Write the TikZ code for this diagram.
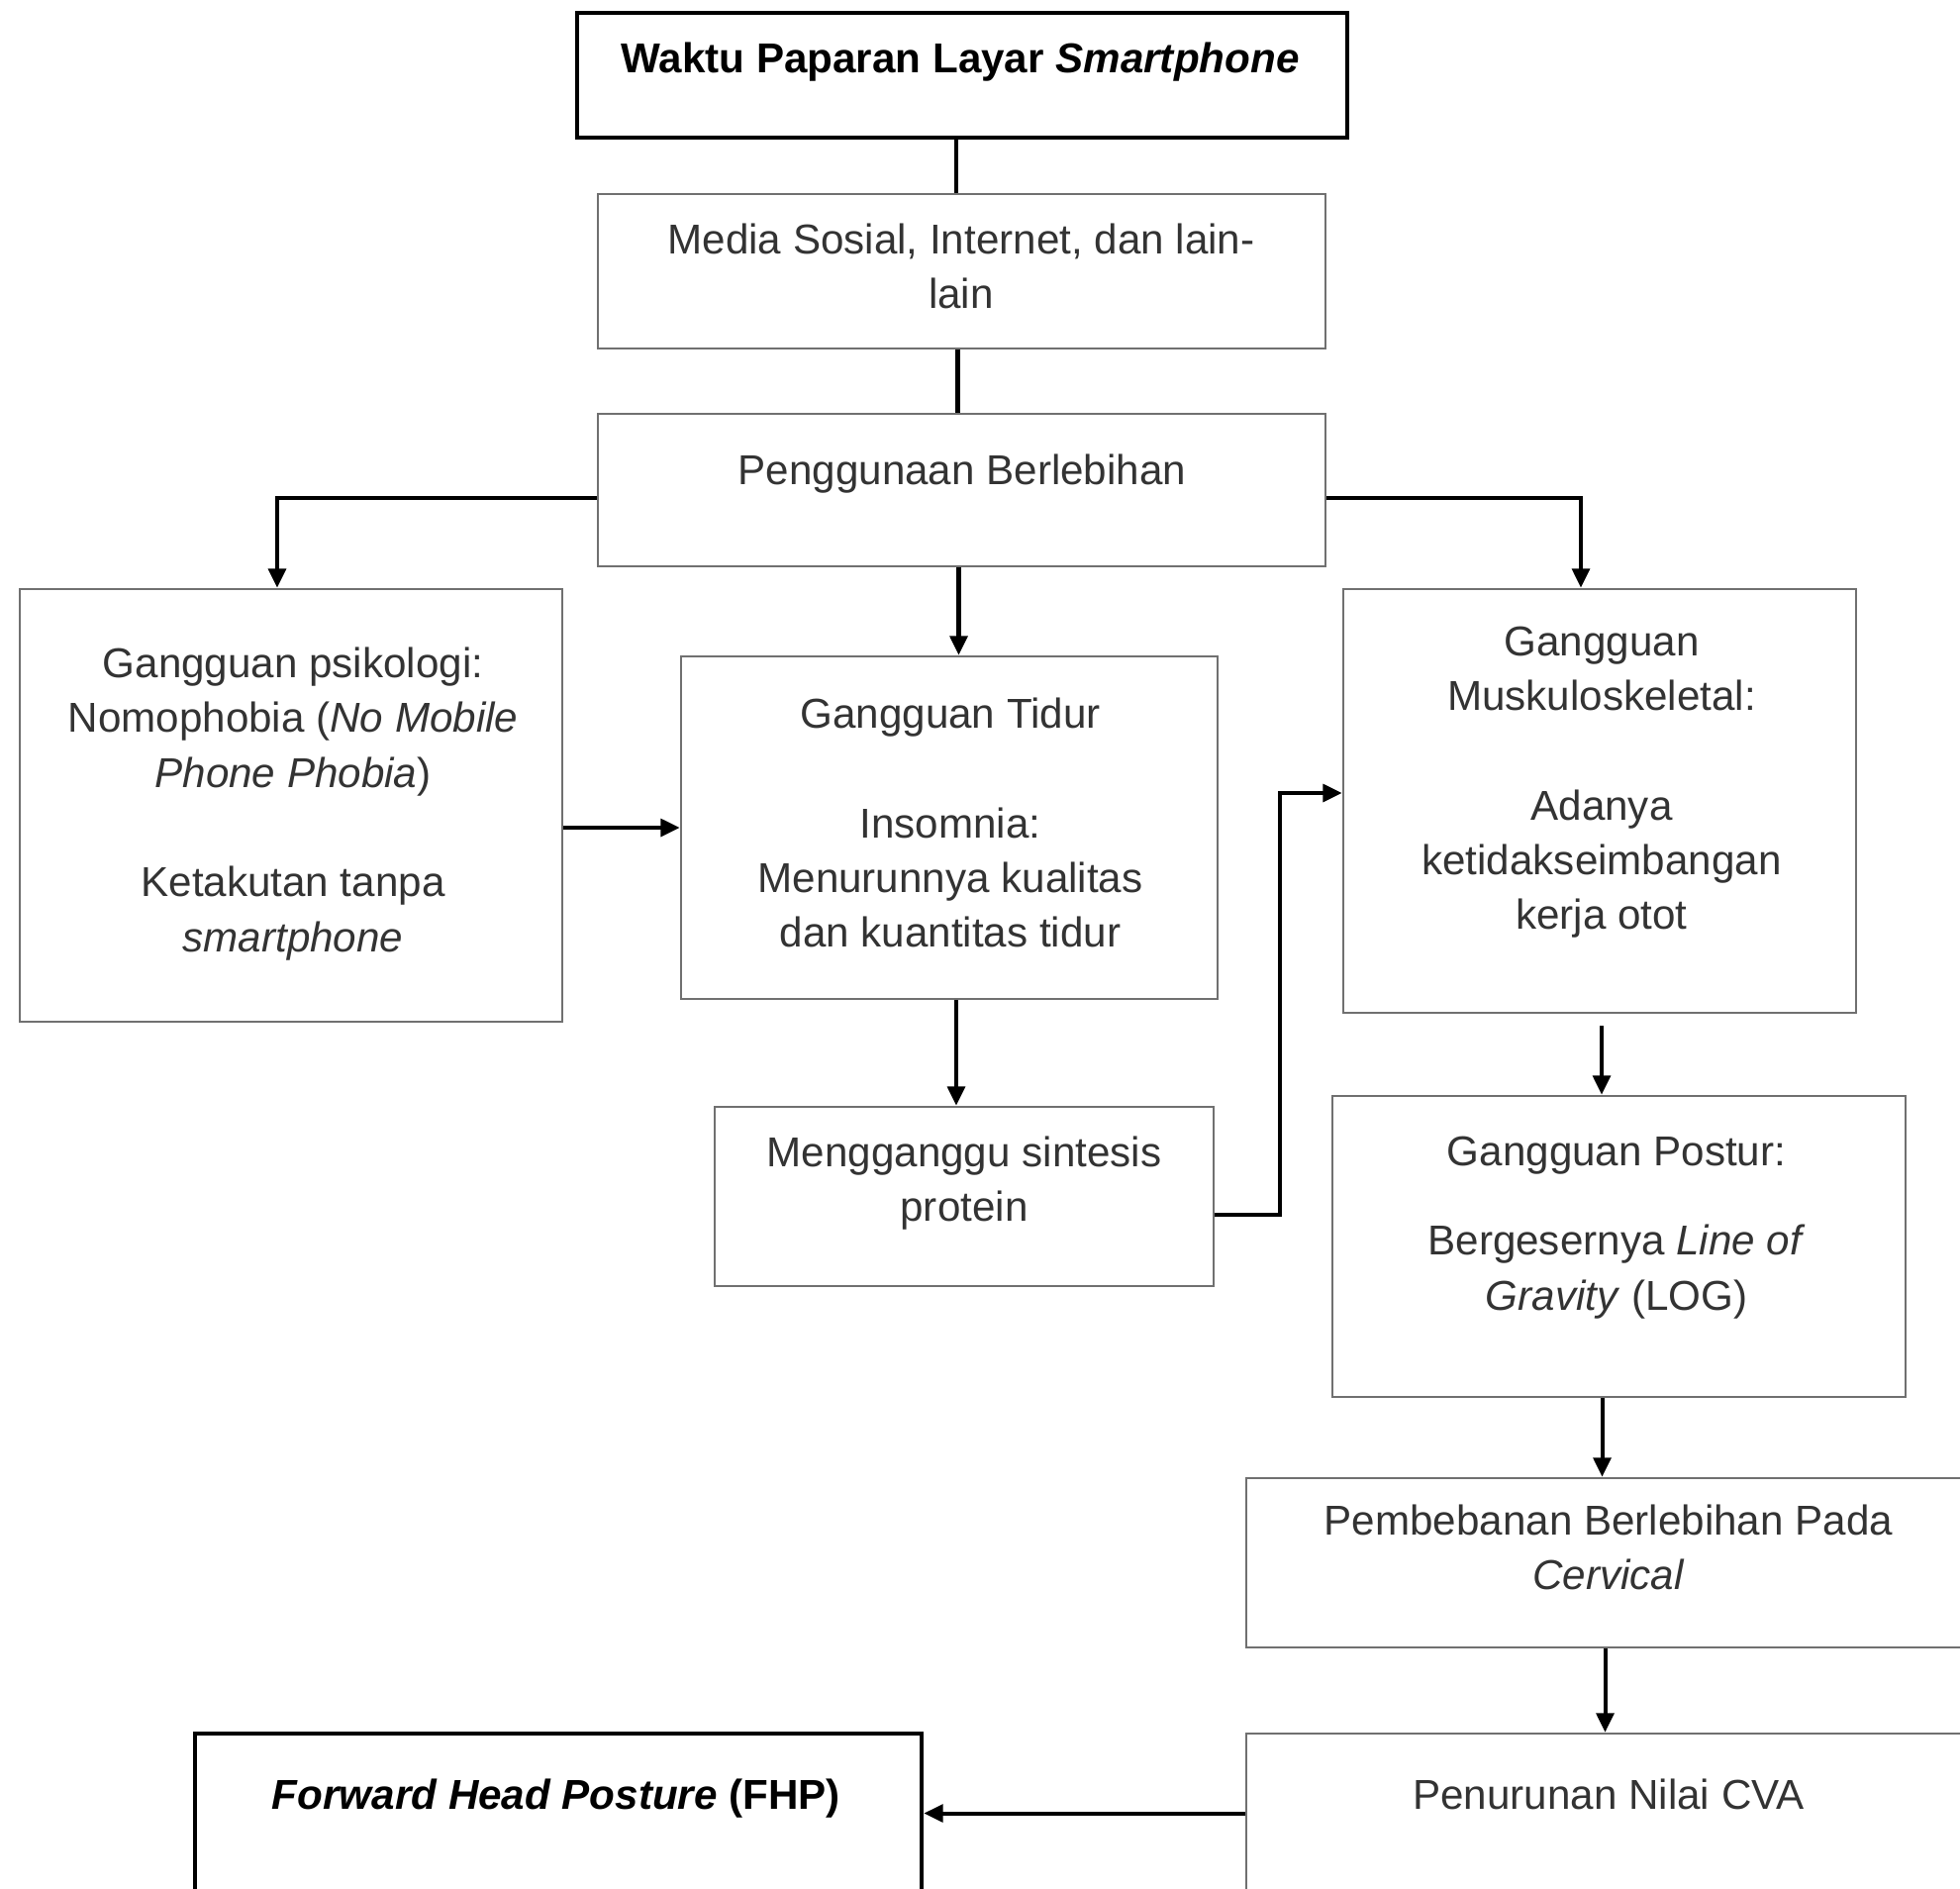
\documentclass[tikz,border=0pt]{standalone}
\usepackage{fontspec}
\setmainfont{Liberation Sans}
\usetikzlibrary{arrows.meta,calc}
\definecolor{txt}{HTML}{333333}
\definecolor{bord}{HTML}{707070}
\begin{document}
\begin{tikzpicture}[x=0.02cm,y=-0.02cm,
  box/.style={draw=bord,line width=1.4pt,inner sep=0pt,fill=none},
  thickbox/.style={draw=black,line width=2.6pt,inner sep=0pt},
  lbl/.style={align=center,text=txt,inner sep=0pt,font=\fontsize{24pt}{31.5pt}\selectfont},
  blbl/.style={align=center,text=black,inner sep=0pt,font=\fontsize{24pt}{31.5pt}\selectfont\bfseries},
  conn/.style={draw=black,line width=2.3pt},
  arr/.style={conn,-{Triangle[length=11pt,width=10pt]}}]
\useasboundingbox (0,0) rectangle (1980,1907);
\fill[white] (0,0) rectangle (1980,1907);
\clip (0,0) rectangle (1980,1907);
% boxes
\node[thickbox,minimum width=778*0.02cm,minimum height=126*0.02cm] (top) at (972,76) {};
\node[box,minimum width=735*0.02cm,minimum height=156*0.02cm] (media) at (971.5,274) {};
\node[box,minimum width=735*0.02cm,minimum height=154*0.02cm] (pen) at (971.5,495) {};
\node[box,minimum width=548*0.02cm,minimum height=437*0.02cm] (psi) at (294,813.5) {};
\node[box,minimum width=542*0.02cm,minimum height=346*0.02cm] (tidur) at (959,836) {};
\node[box,minimum width=518*0.02cm,minimum height=428*0.02cm] (musk) at (1616,809) {};
\node[box,minimum width=504*0.02cm,minimum height=181*0.02cm] (meng) at (974,1208.5) {};
\node[box,minimum width=579*0.02cm,minimum height=304*0.02cm] (postur) at (1635.5,1259) {};
\node[box,minimum width=751*0.02cm,minimum height=171*0.02cm] (pemb) at (1634.5,1578.5) {};
\node[box,minimum width=751*0.02cm,minimum height=209*0.02cm] (penur) at (1634.5,1855.5) {};
\node[thickbox,minimum width=734*0.02cm,minimum height=209*0.02cm] (fhp) at (564,1855.5) {};
% texts
\node[blbl] (ttop) at (970,63) {Waktu Paparan Layar \textit{Smartphone}};
\node[lbl] (tmedia) at (971,269) {Media Sosial, Internet, dan lain-\\lain};
\node[lbl] (tpen) at (972,479) {Penggunaan Berlebihan};
\node[lbl] (tpsi) at (296,812) {Gangguan psikologi:\\Nomophobia (\textit{No Mobile}\\\textit{Phone Phobia})\\[31.5pt]Ketakutan tanpa\\\textit{smartphone}};
\node[lbl] (ttidur) at (960,831) {Gangguan Tidur\\[31.5pt]Insomnia:\\Menurunnya kualitas\\dan kuantitas tidur};
\node[lbl] (tmusk) at (1618,790) {Gangguan\\Muskuloskeletal:\\[31.5pt]Adanya\\ketidakseimbangan\\kerja otot};
\node[lbl] (tmeng) at (974,1195) {Mengganggu sintesis\\protein};
\node[lbl] (tpostur) at (1633,1240) {Gangguan Postur:\\[20pt]Bergesernya \textit{Line of}\\\textit{Gravity} (LOG)};
\node[lbl] (tpemb) at (1625,1563) {Pembebanan Berlebihan Pada\\\textit{Cervical}};
\node[lbl] (tpenur) at (1625,1812) {Penurunan Nilai CVA};
\node[blbl] (tfhp) at (562,1817) {\textit{Forward Head Posture} (FHP)};
% connectors
\draw[conn] ($(top.south)+(-6,0)$) -- ($(top.south |- media.north)+(-6,0)$);
\draw[conn] ($(media.south)+(-4,0)$) -- ($(media.south |- pen.north)+(-4,0)$);
\draw[arr] ($(pen.west)+(0,8)$) -| ($(psi.north)+(-14,0)$);
\draw[arr] ($(pen.east)+(0,8)$) -| ($(musk.north)+(-19,0)$);
\draw[arr] ($(pen.south)+(-3,0)$) -- ($(pen.south |- tidur.north)+(-3,0)$);
\draw[arr] (psi.east |- tidur.west) -- (tidur.west);
\draw[arr] ($(tidur.south)+(7,0)$) -- ($(tidur.south |- meng.north)+(7,0)$);
\draw[arr] ($(meng.east)+(0,18)$) -- ++(66,0) |- ($(musk.west)+(0,-8)$);
\draw[arr] ($(musk.south)+(2,12)$) -- ($(musk.south |- postur.north)+(2,0)$);
\draw[arr] ($(postur.south)+(-17,0)$) -- ($(postur.south |- pemb.north)+(-17,0)$);
\draw[arr] ($(pemb.south)+(-13,0)$) -- ($(pemb.south |- penur.north)+(-13,0)$);
\draw[arr] ($(penur.west)+(0,-24)$) -- ($(fhp.east |- penur.west)+(0,-24)$);
\end{tikzpicture}
\end{document}
